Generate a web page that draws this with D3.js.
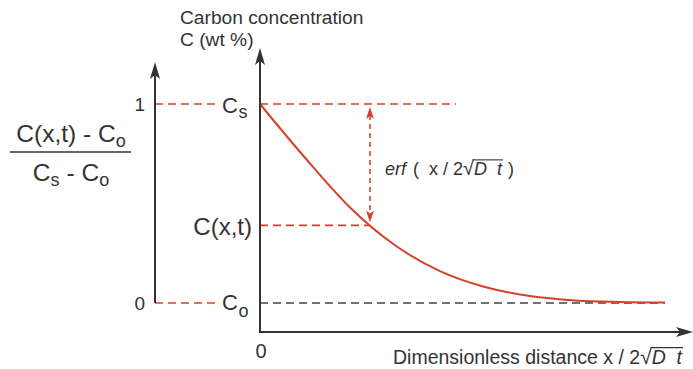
<!DOCTYPE html>
<html>
<head>
<meta charset="utf-8">
<script src="https://cdn.jsdelivr.net/npm/d3@7"></script>
<style>
	body { margin: 0; background: #fff; }
	svg { display: block; font-family: "Liberation Sans", Arial, sans-serif; }
</style>
</head>
<body>
<svg id="chart" width="693" height="369"></svg>
<script>
// Profile: dimensionless distance vs. normalised concentration
const distance = [0, 0.25, 0.5, 0.75, 1.0, 1.25, 1.5, 1.75, 2.0, 2.25];
const concentration = [1, 0.73, 0.48, 0.29, 0.16, 0.08, 0.035, 0.013, 0.005, 0.002];
// Marked levels on the concentration axis
const levelNames = ['Cs', 'C(x,t)', 'Co'];
const levelValues = [1, 0.39, 0];
const leftTicks = ['1', '0'];

const RED = '#d6412c';
const INK = '#333';

const svg = d3.select('#chart');

const x = d3.scaleLinear().domain([0, 2.4]).range([260, 692]);
const y = d3.scaleLinear().domain([0, 1]).range([303, 104]);
const xLeft = 155;

// runs of text pieces placed one after another
function textRun(g, x0, y0, parts) {
	let cx = x0;
	parts.forEach(p => {
		const t = g.append('text')
			.attr('x', cx)
			.attr('y', y0 + (p.dy || 0))
			.attr('font-size', p.size)
			.attr('font-style', p.italic ? 'italic' : 'normal')
			.attr('fill', INK)
			.attr('xml:space', 'preserve')
			.style('white-space', 'pre')
			.text(p.t);
		const w = t.node().getComputedTextLength();
		if (p.overline) {
			g.append('line')
				.attr('x1', cx - 1).attr('x2', cx + w + 1)
				.attr('y1', y0 - p.size * 0.84).attr('y2', y0 - p.size * 0.84)
				.attr('stroke', INK).attr('stroke-width', 1.1);
		}
		cx += w + (p.gap || 0);
	});
	return cx;
}
function runWidth(parts) {
	const g = svg.append('g');
	const end = textRun(g, 0, 0, parts);
	g.remove();
	return end;
}

// ---- dashed guide lines ----
const guides = svg.append('g').attr('fill', 'none').attr('stroke-width', 1.6);
// left short red dashes to the labels
[levelValues[0], levelValues[2]].forEach(v => {
	guides.append('line')
		.attr('x1', xLeft).attr('x2', 216)
		.attr('y1', y(v)).attr('y2', y(v))
		.attr('stroke', RED).attr('stroke-dasharray', '8,5');
});
// Cs level
guides.append('line')
	.attr('x1', x(0)).attr('x2', 456)
	.attr('y1', y(levelValues[0])).attr('y2', y(levelValues[0]))
	.attr('stroke', RED).attr('stroke-dasharray', '8,5');
// C(x,t) level up to the curve
const xHit = x(0.611);
guides.append('line')
	.attr('x1', x(0)).attr('x2', xHit)
	.attr('y1', y(levelValues[1])).attr('y2', y(levelValues[1]))
	.attr('stroke', RED).attr('stroke-dasharray', '8,5');
// Co level (black)
guides.append('line')
	.attr('x1', x(0)).attr('x2', x(2.25))
	.attr('y1', y(levelValues[2])).attr('y2', y(levelValues[2]))
	.attr('stroke', '#444').attr('stroke-dasharray', '8,5');

// ---- double red arrow ----
const ay1 = y(levelValues[0]) + 3, ay2 = y(levelValues[1]) - 3;
guides.append('line')
	.attr('x1', xHit).attr('x2', xHit)
	.attr('y1', ay1 + 8).attr('y2', ay2 - 8)
	.attr('stroke', RED).attr('stroke-dasharray', '5,4');
svg.append('path')
	.attr('d', `M${xHit},${ay1} l-4,12 l4,-3 l4,3 Z`)
	.attr('fill', RED);
svg.append('path')
	.attr('d', `M${xHit},${ay2} l-4,-12 l4,3 l4,-3 Z`)
	.attr('fill', RED);

// ---- curve ----
const pts = distance.map((d, i) => [d, concentration[i]]);
svg.append('path')
	.datum(pts)
	.attr('fill', 'none')
	.attr('stroke', RED)
	.attr('stroke-width', 2)
	.attr('d', d3.line().x(d => x(d[0])).y(d => y(d[1])).curve(d3.curveMonotoneX));

// ---- axes ----
const axes = svg.append('g').attr('stroke', INK).attr('stroke-width', 2).attr('fill', 'none');
axes.append('path').attr('d', `M${xLeft},${y(0)} V${66}`);
axes.append('path').attr('d', `M${x(0)},${52} V${332} H${688}`);
const heads = svg.append('g').attr('fill', INK);
heads.append('path').attr('d', `M${xLeft},${62} l-5,17 l5,-4 l5,4 Z`);
heads.append('path').attr('d', `M${x(0)},${48} l-5,17 l5,-4 l5,4 Z`);
heads.append('path').attr('d', `M${693},${332} l-17,-5 l4,5 l-4,5 Z`);

// left axis ticks
svg.selectAll('text.lt').data(leftTicks).enter().append('text')
	.attr('class', 'lt')
	.attr('x', 145)
	.attr('y', (d, i) => y(i === 0 ? 1 : 0) + 7)
	.attr('text-anchor', 'end')
	.attr('font-size', 19)
	.attr('fill', INK)
	.text(d => d);

// origin 0
svg.append('text').attr('x', x(0) + 1).attr('y', 358).attr('text-anchor', 'middle')
	.attr('font-size', 20).attr('fill', INK).text('0');

// level labels
const lab = svg.append('g');
textRun(lab, 222, y(1) + 9, [{t: 'C', size: 22, gap: 0.5}, {t: 's', size: 18, dy: 5}]);
textRun(lab, 222, y(0) + 7, [{t: 'C', size: 22, gap: 0.5}, {t: 'o', size: 18, dy: 7}]);
lab.append('text').attr('x', 252).attr('y', y(levelValues[1]) + 10)
	.attr('text-anchor', 'end').attr('font-size', 24).attr('fill', INK).text(levelNames[1]);

// y title
svg.append('text').attr('x', 180).attr('y', 24).attr('font-size', 19.2).attr('fill', INK)
	.text('Carbon concentration');
svg.append('text').attr('x', 180).attr('y', 46).attr('font-size', 19.2).attr('fill', INK)
	.text('C (wt %)');

// fraction
const num = [{t: 'C(x,t) - C', size: 24.5}, {t: 'o', size: 18, dy: 5}];
const den = [{t: 'C', size: 24.5}, {t: 's', size: 18, dy: 5, gap: 7}, {t: '- C', size: 24.5}, {t: 'o', size: 18, dy: 5}];
const fracG = svg.append('g');
const nw = runWidth(num), dw = runWidth(den);
const fc = 71;
textRun(fracG, fc - nw / 2, 142, num);
fracG.append('line').attr('x1', 10).attr('x2', 131).attr('y1', 152).attr('y2', 152)
	.attr('stroke', INK).attr('stroke-width', 1.5);
textRun(fracG, fc - dw / 2, 181, den);

// erf label
const erfG = svg.append('g');
textRun(erfG, 385, 175, [
	{t: 'erf', size: 18, italic: true, gap: 7},
	{t: '(  x / 2', size: 18, gap: 0},
	{t: '√', size: 20, gap: 0},
	{t: 'D  t', size: 18, italic: true, overline: true, gap: 6},
	{t: ')', size: 18}
]);

// x title
const xt = svg.append('g');
textRun(xt, 393, 364, [
	{t: 'Dimensionless distance x / 2', size: 19.5},
	{t: '√', size: 21},
	{t: 'D  t', size: 19.5, italic: true, overline: true}
]);
</script>
</body>
</html>
